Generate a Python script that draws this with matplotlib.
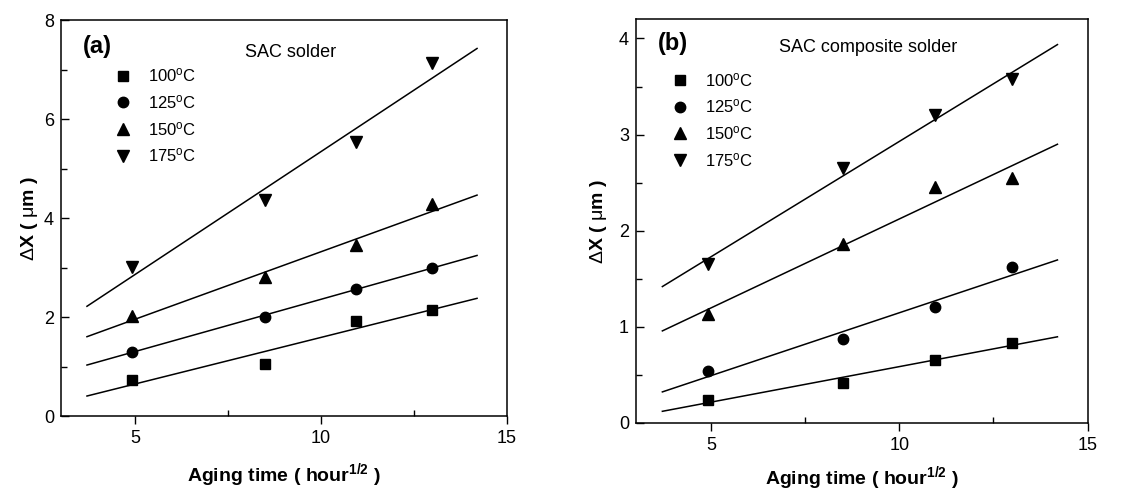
from matplotlib import pyplot as plt
import numpy as np

plt.rcParams["font.family"] = ["Liberation Sans", "DejaVu Sans"]
plt.rcParams["mathtext.fontset"] = "custom"
plt.rcParams["mathtext.rm"] = "Liberation Sans"
plt.rcParams["mathtext.it"] = "Liberation Sans:italic"
plt.rcParams["mathtext.bf"] = "Liberation Sans:bold"

# aging time, sqrt(hour)
aging_time = [4.9, 8.49, 10.95, 13.0]
temps = ["100", "125", "150", "175"]
markers = ["s", "o", "^", "v"]
msizes = [6.5, 7.5, 8, 8]

# (a) SAC solder, dX in um
sac_100 = [0.73, 1.06, 1.92, 2.15]
sac_125 = [1.30, 2.01, 2.57, 3.00]
sac_150 = [2.02, 2.81, 3.45, 4.28]
sac_175 = [3.01, 4.37, 5.54, 7.14]

# (b) SAC composite solder, dX in um
comp_100 = [0.24, 0.42, 0.66, 0.83]
comp_125 = [0.54, 0.87, 1.21, 1.62]
comp_150 = [1.13, 1.86, 2.46, 2.55]
comp_175 = [1.65, 2.65, 3.20, 3.58]

fit_range = [3.7, 14.2]

fig = plt.figure(figsize=(11.46, 4.93), dpi=100)
ax_a = fig.add_axes([0.0532, 0.156, 0.389, 0.803])
ax_b = fig.add_axes([0.555, 0.142, 0.394, 0.819])


def panel(ax, series, ylim, ymajor, letter, title, title_y, legend_x, legend_y, xpad, ypad):
    xf = np.array(fit_range)
    for y, t, m, ms in zip(series, temps, markers, msizes):
        ax.plot(aging_time, y, m, color="black", ms=ms, label=t + r"$^{\rm o}$C")
        k, b = np.polyfit(aging_time, y, 1)
        ax.plot(xf, k * xf + b, "-", color="black", lw=1.1)

    ax.set_xlim(3, 15)
    ax.set_ylim(*ylim)
    ax.set_xticks([5, 10, 15])
    ax.set_xticks([7.5, 12.5], minor=True)
    ax.set_yticks(ymajor)
    ax.set_yticks(np.arange(ymajor[0], ylim[1], (ymajor[1] - ymajor[0]) / 2), minor=True)
    ax.tick_params(axis="x", which="major", direction="out", length=6, width=1, labelsize=13, pad=4)
    ax.tick_params(axis="x", which="minor", direction="in", length=4, width=1)
    ax.tick_params(axis="y", which="major", direction="in", length=6, width=1, labelsize=13, pad=5)
    ax.tick_params(axis="y", which="minor", direction="in", length=4, width=1)
    for s in ax.spines.values():
        s.set_linewidth(1.1)

    ax.set_xlabel(r"Aging time ( hour$^{\mathbf{1/2}}$ )", fontsize=14, fontweight="bold", labelpad=xpad)
    ax.set_ylabel(r"$\Delta$X ( $\mathrm{\mu}$m )", fontsize=14, fontweight="bold", labelpad=ypad)

    ax.text(0.049, title_y[0], letter, transform=ax.transAxes, fontsize=17,
            fontweight="bold", va="center", ha="left")
    ax.text(0.515, title_y[1], title, transform=ax.transAxes, fontsize=13,
            va="center", ha="center")

    ax.legend(loc="upper left", bbox_to_anchor=(legend_x, legend_y), frameon=False,
              fontsize=12, handlelength=1.0, handletextpad=1.0, labelspacing=0.52,
              borderpad=0, borderaxespad=0)


panel(ax_a, [sac_100, sac_125, sac_150, sac_175], (0, 8), [0, 2, 4, 6, 8],
      "(a)", "SAC solder", (0.934, 0.919), 0.12, 0.883, 10, 3)
panel(ax_b, [comp_100, comp_125, comp_150, comp_175], (0, 4.2), [0, 1, 2, 3, 4],
      "(b)", "SAC composite solder", (0.94, 0.931), 0.078, 0.872, 7, 7)

fig.savefig("out.png", dpi=100)
